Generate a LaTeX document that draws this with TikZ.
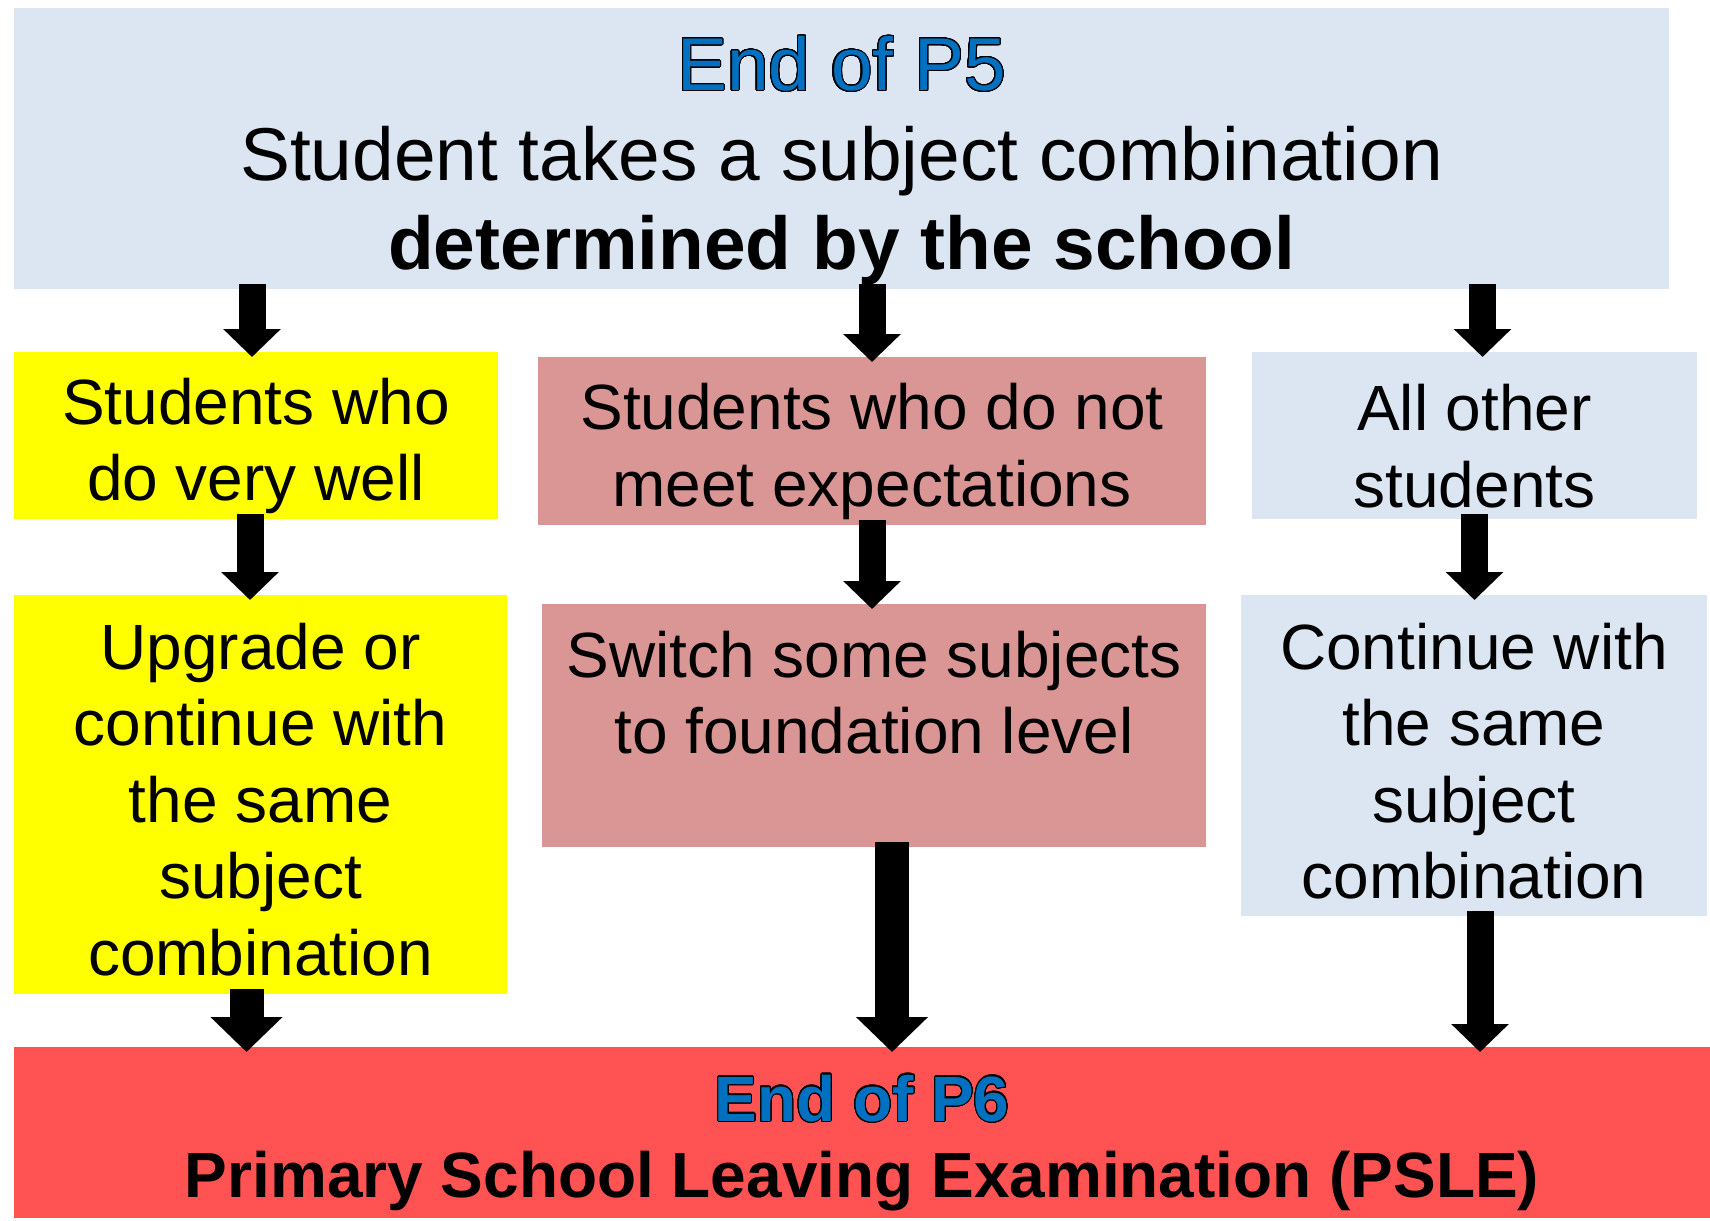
\documentclass[tikz,border=0pt]{standalone}
\usepackage{fontspec}
\setmainfont{Liberation Sans}
\usepackage{xcolor}
\usepackage{contour}
\usepackage{tikz}
\usetikzlibrary{arrows.meta, positioning, calc}
\definecolor{paleblue}{RGB}{220,230,242}
\definecolor{brightyellow}{RGB}{255,255,0}
\definecolor{dustypink}{RGB}{217,150,148}
\definecolor{alertred}{RGB}{255,82,82}
\definecolor{stageblue}{RGB}{0,112,192}
\contourlength{0.3pt}
\contournumber{32}
\newcommand{\stage}[1]{\textcolor{stageblue}{\contour{black}{#1}}}
% taller first line, so the text sits a little lower in its box
\newcommand{\lift}[1][1.05em]{\rule{0pt}{#1}}
\tikzset{
  box/.style={rectangle, inner sep=0pt, outer sep=0pt, align=center, text=black, font=\fontsize{18.2}{21.8}\selectfont},
  headbox/.style={box, fill=paleblue, minimum width=16.55cm, minimum height=2.81cm, font=\fontsize{21.3}{25.5}\selectfont},
  goodbox/.style={box, fill=brightyellow},
  weakbox/.style={box, fill=dustypink},
  otherbox/.style={box, fill=paleblue},
  pslebox/.style={box, fill=alertred, minimum width=16.96cm, minimum height=1.71cm},
  blockarrow/.style={line width=0.27cm, -{Triangle[width=0.56cm,length=0.28cm]}, shorten <=-0.05cm, shorten >=-0.05cm},
  bigarrow/.style={blockarrow, line width=0.34cm, -{Triangle[width=0.70cm,length=0.35cm]}}
}
\begin{document}
\begin{tikzpicture}
        \useasboundingbox (0,0) rectangle (17.1,-12.2);

        % Nodes
        \node (p5) [headbox] at (8.415,-1.485) {\lift\stage{End of P5}\\Student takes a subject combination\\\textbf{determined by the school}};

        \node (well) [goodbox, minimum width=4.84cm, minimum height=1.67cm, below right=0.63cm and 0cm of p5.south west] {\lift Students who\\do very well};
        \node (weak) [weakbox, minimum width=6.68cm, minimum height=1.68cm, below right=0.68cm and 5.24cm of p5.south west] {\lift Students who do not\\meet expectations};
        \node (other) [otherbox, minimum width=4.45cm, minimum height=1.67cm, below left=0.63cm and -0.28cm of p5.south east] {\lift All other\\students};

        \node (upgrade) [goodbox, minimum width=4.93cm, minimum height=3.99cm, below right=0.76cm and 0cm of well.south west] {\lift[0.88em]Upgrade or\\continue with\\the same\\subject\\combination};
        \node (switch) [weakbox, minimum width=6.64cm, minimum height=2.43cm, below right=0.79cm and 0.04cm of weak.south west] {\lift[0.88em]Switch some subjects\\to foundation level\\\mbox{}};
        \node (same) [otherbox, minimum width=4.66cm, minimum height=3.21cm, below left=0.76cm and -0.10cm of other.south east] {\lift[0.9em]Continue with\\the same\\subject\\combination};

        \node (p6) [pslebox, below right=0.53cm and 0cm of upgrade.south west] {\lift\stage{\textbf{End of P6}}\\\textbf{Primary School Leaving Examination (PSLE)}};

        % Paths
        \draw [blockarrow] ($(p5.south -| well.north)+(-0.04,0)$) -- ($(well.north)+(-0.04,0)$);
        \draw [blockarrow] (p5.south -| weak.north) -- (weak.north);
        \draw [blockarrow] ($(p5.south -| other.north)+(0.08,0)$) -- ($(other.north)+(0.08,0)$);

        \draw [blockarrow] ($(well.south)+(-0.06,0)$) -- ($(well.south |- upgrade.north)+(-0.06,0)$);
        \draw [blockarrow] (weak.south) -- (weak.south |- switch.north);
        \draw [blockarrow] (other.south) -- (other.south |- same.north);

        % Into the PSLE
        \draw [bigarrow] ($(upgrade.south)+(-0.14,0)$) -- ($(upgrade.south |- p6.north)+(-0.14,0)$);
        \draw [bigarrow] ($(switch.south)+(0.18,0)$) -- ($(switch.south |- p6.north)+(0.18,0)$);
        \draw [blockarrow] ($(same.south)+(0.06,0)$) -- ($(same.south |- p6.north)+(0.06,0)$);
\end{tikzpicture}
\end{document}
